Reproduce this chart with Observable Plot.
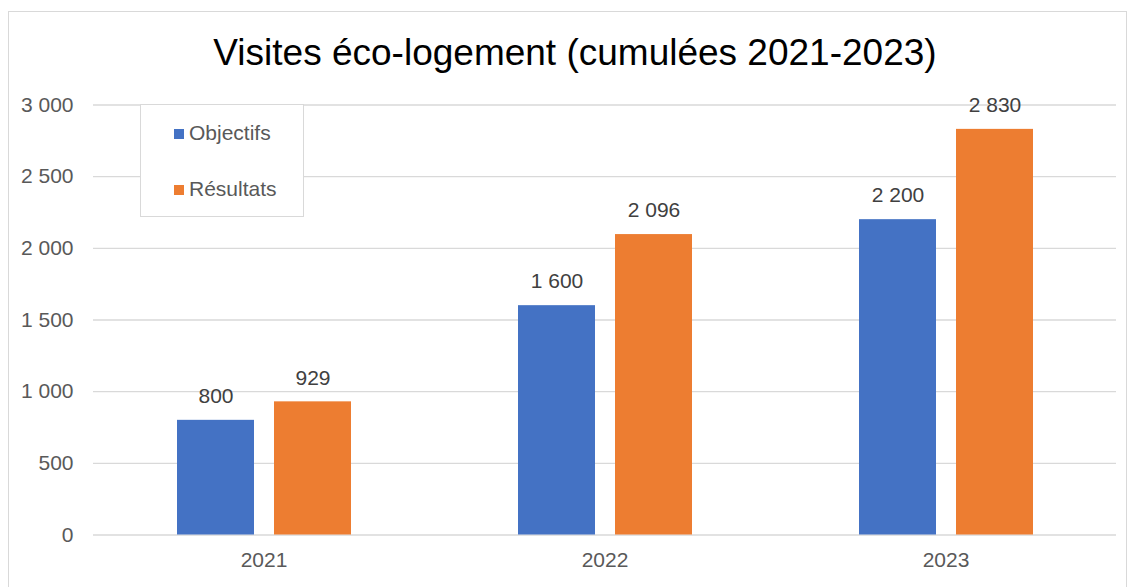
<!DOCTYPE html>
<html>
<head>
<meta charset="utf-8">
<script src="https://cdn.jsdelivr.net/npm/d3@7"></script>
<script src="https://cdn.jsdelivr.net/npm/@observablehq/plot@0.6"></script>
<style>
  html, body { margin: 0; padding: 0; background: #fff; }
  body { width: 1129px; height: 587px; position: relative; overflow: hidden; font-family: "Liberation Sans", Arial, sans-serif; }
  #frame { position: absolute; left: 8px; top: 11px; width: 1119px; height: 600px; border: 1px solid #d9d9d9; box-sizing: border-box; }
  #chart { position: absolute; left: 0; top: 0; }
  #title { position: absolute; left: 575px; top: 34px; transform: translateX(-50%); font-size: 37px; line-height: 37px; color: #000; white-space: nowrap; }
  #legend { position: absolute; left: 140px; top: 104px; width: 164px; height: 113px; box-sizing: border-box; border: 1px solid #d9d9d9; background: #fff; }
  .item { position: absolute; left: 33px; font-size: 21px; line-height: 21px; color: #595959; white-space: nowrap; }
  .sw { display: inline-block; width: 10px; height: 10px; margin-right: 5px; vertical-align: 1px; }
</style>
</head>
<body>
<div id="frame"></div>
<div id="chart"></div>
<div id="title"></div>
<div id="legend"></div>
<script>
const title = "Visites éco-logement (cumulées 2021-2023)";
const years = ["2021", "2022", "2023"];
const seriesNames = ["Objectifs", "Résultats"];
const objectifs = [800, 1600, 2200];
const resultats = [929, 2096, 2830];
const yTicks = [0, 500, 1000, 1500, 2000, 2500, 3000];
const colors = ["#4472C4", "#ED7D31"];

const locale = d3.formatLocale({decimal: ",", thousands: "\u00a0", grouping: [3], currency: ["", " €"]});
const fmt = locale.format(",d");

const data = [];
years.forEach((y, i) => {
  data.push({year: y, series: seriesNames[0], value: objectifs[i]});
  data.push({year: y, series: seriesNames[1], value: resultats[i]});
});

const chart = Plot.plot({
  width: 1129,
  height: 587,
  marginLeft: 93,
  marginRight: 13,
  marginTop: 104.5,
  marginBottom: 52.5,
  style: {fontFamily: "Liberation Sans, Arial, sans-serif", fontSize: "21px", color: "#595959", background: "transparent", overflow: "visible"},
  y: {domain: [0, 3000], ticks: yTicks, tickFormat: fmt, tickSize: 0, tickPadding: 20, label: null},
  fx: {domain: years, padding: 0, label: null, tickSize: 0, tickPadding: 17, axis: "bottom"},
  x: {domain: seriesNames, paddingInner: 0.2113, paddingOuter: 0.863, axis: null},
  color: {domain: seriesNames, range: colors},
  marks: [
    Plot.ruleY(yTicks, {stroke: "#d9d9d9", strokeWidth: 1.3}),
    Plot.barY(data, {fx: "year", x: "series", y: "value", fill: "series"}),
    Plot.text(data, {fx: "year", x: "series", y: "value", text: d => fmt(d.value), dy: -24, fill: "#404040", fontSize: 21})
  ]
});
document.getElementById("chart").appendChild(chart);

document.getElementById("title").textContent = title;
const legend = document.getElementById("legend");
const tops = [17, 73];
seriesNames.forEach((name, i) => {
  const it = document.createElement("div");
  it.className = "item";
  it.style.top = tops[i] + "px";
  const sw = document.createElement("span");
  sw.className = "sw";
  sw.style.background = colors[i];
  it.appendChild(sw);
  it.appendChild(document.createTextNode(name));
  legend.appendChild(it);
});
</script>
</body>
</html>
